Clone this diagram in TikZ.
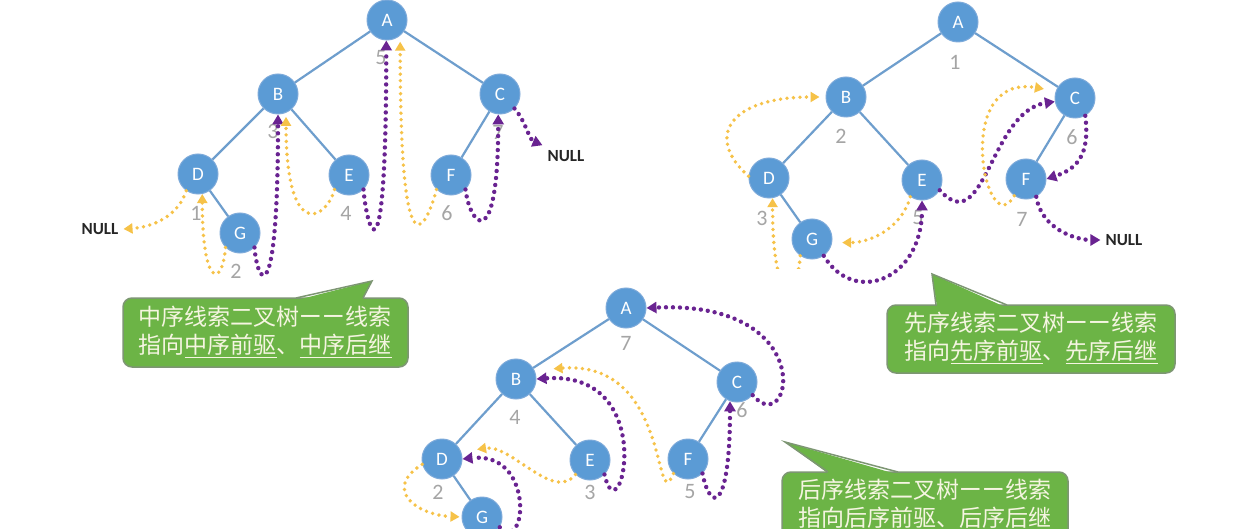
\documentclass[tikz,border=0pt]{standalone}
\usepackage{fontspec}
\setmainfont{Carlito}
\newfontfamily\cjk{Noto Sans CJK SC}
\usetikzlibrary{arrows.meta}
\definecolor{nodeblue}{RGB}{91,155,213}
\definecolor{nodeline}{RGB}{125,170,218}
\definecolor{edgeblue}{RGB}{110,158,205}
\definecolor{thyel}{RGB}{246,194,72}
\definecolor{thpur}{RGB}{105,35,145}
\definecolor{numgray}{RGB}{165,165,165}
\definecolor{cgreen}{RGB}{108,180,70}
\definecolor{cline}{RGB}{125,150,115}
\definecolor{ctext}{RGB}{245,245,225}
\newcommand\ulx[1]{\underline{#1}}
\newcommand\dsh{\makebox[1em]{\scalebox{1.0}[1.4]{—}}}
\begin{document}
\begin{tikzpicture}[x=1pt,y=-1pt,
  tnode/.style={circle,fill=nodeblue,draw=nodeline,line width=1pt,minimum size=40pt,inner sep=0pt,text=white,font=\fontsize{19}{19}\selectfont},
  edge/.style={draw=edgeblue,line width=2.2pt},
  num/.style={text=numgray,font=\fontsize{22}{22}\selectfont,inner sep=0pt},
  nul/.style={text=black!85,font=\bfseries\fontsize{17}{17}\selectfont,inner sep=5pt},
  ythr/.style={draw=thyel,line width=3.8pt,line cap=round,dash pattern=on 0pt off 6.5pt,-{Triangle[length=9pt,width=10pt]}},
  pthr/.style={draw=thpur,line width=4.4pt,line cap=round,dash pattern=on 0pt off 7pt,-{Triangle[length=10pt,width=11pt]}},
  cbox/.style={fill=cgreen,draw=cline,line width=1.5pt,rounded corners=9pt},
  ctail/.style={fill=cgreen},
  ctailline/.style={draw=cline,line width=1.5pt,line join=miter},
  ctxt/.style={text=ctext,font=\cjk\fontsize{23}{28}\selectfont,align=center,inner sep=0pt}
]
\useasboundingbox (0,0) rectangle (1241,529);
\clip (0,0) rectangle (1241,529);
\fill[white] (0,0) rectangle (1241,529);

% ---------------- left tree: inorder ----------------
\node[tnode] (lA) at (387,20) {A};
\node[tnode] (lB) at (278,94) {B};
\node[tnode] (lC) at (500,94) {C};
\node[tnode] (lD) at (198,174) {D};
\node[tnode] (lE) at (349,175) {E};
\node[tnode] (lF) at (451,175) {F};
\node[tnode] (lG) at (240,233) {G};
\draw[edge] (lA) -- (lB); \draw[edge] (lA) -- (lC);
\draw[edge] (lB) -- (lD); \draw[edge] (lB) -- (lE);
\draw[edge] (lC) -- (lF); \draw[edge] (lD) -- (lG);
\node[num] (ln1) at (196,213) {1};
\node[num] (ln2) at (236,271) {2};
\node[num] (ln3) at (273,131) {3};
\node[num] (ln4) at (346,213) {4};
\node[num] (ln5) at (381,58) {5};
\node[num] (ln6) at (447,213) {6};
\node[num] (ln7) at (498,132) {7};
\node[nul] (lnullL) at (100,229) {NULL};
\node[nul] (lnullR) at (566,156) {NULL};
\draw[ythr] (lD.235) .. controls +(-8,25) and +(30,-2) .. (lnullL.east);
\draw[ythr] (lG.225) .. controls +(-3,40) and +(0,95) .. (lD.282);
\draw[pthr] (lG.315) .. controls +(3,38) and +(0,200) .. (lB.south);
\draw[ythr,shorten >=4pt] (lE.225) .. controls +(-8,30) and +(0,130) .. (lB.293);
\draw[pthr] (lE.315) .. controls +(3,38) and +(0,260) .. (lA.268);
\draw[ythr,shorten >=6pt] (lF.225) .. controls +(-8,30) and +(0,260) .. (lA.310);
\draw[pthr] (lF.315) .. controls +(5,38) and +(0,140) .. (lC.265);
\draw[pthr] (lC.315) .. controls +(12,14) and +(-14,-6) .. (lnullR.north west);

% ---------------- right tree: preorder ----------------
\node[tnode] (rA) at (958,22) {A};
\node[tnode] (rB) at (846,97) {B};
\node[tnode] (rC) at (1075,98) {C};
\node[tnode] (rD) at (769,178) {D};
\node[tnode] (rE) at (922,180) {E};
\node[tnode] (rF) at (1026,179) {F};
\node[tnode] (rG) at (812,239) {G};
\draw[edge] (rA) -- (rB); \draw[edge] (rA) -- (rC);
\draw[edge] (rB) -- (rD); \draw[edge] (rB) -- (rE);
\draw[edge] (rC) -- (rF); \draw[edge] (rD) -- (rG);
\node[num] (rn1) at (955,62) {1};
\node[num] (rn2) at (841,136) {2};
\node[num] (rn3) at (762,218) {3};
\node[num] (rn5) at (918,218) {5};
\node[num] (rn6) at (1072,137) {6};
\node[num] (rn7) at (1022,219) {7};
\node[nul] (rnull) at (1124,240) {NULL};
\draw[ythr,shorten >=6pt] (rD.175) .. controls +(-45,-40) and +(-95,0) .. (rB.west);
\begin{scope}
\clip (0,0) rectangle (1241,268);
\draw[ythr] (rG.235) .. controls +(-3,45) and +(0,110) .. (rD.280);
\end{scope}
\draw[pthr] (rG.305) .. controls +(30,50) and +(0,80) .. (rE.south);
\draw[ythr,shorten >=10pt] (rE.235) .. controls +(-8,30) and +(40,0) .. (rG.350);
\draw[pthr] (rE.330) .. controls +(45,50) and +(-65,10) .. (rC.190);
\draw[ythr,shorten >=12pt] (rF.235) .. controls +(-28,50) and +(-105,-18) .. (rC.160);
\draw[pthr] (rC.300) .. controls +(5,40) and +(30,-10) .. (rF.east);
\draw[pthr] (rF.300) .. controls +(5,32) and +(-25,0) .. (rnull.west);

% ---------------- bottom tree: postorder ----------------
\node[tnode] (bA) at (626,308) {A};
\node[tnode] (bB) at (516,379) {B};
\node[tnode] (bC) at (737,382) {C};
\node[tnode] (bD) at (442,459) {D};
\node[tnode] (bE) at (590,460) {E};
\node[tnode] (bF) at (688,459) {F};
\node[tnode] (bG) at (482,517) {G};
\draw[edge] (bA) -- (bB); \draw[edge] (bA) -- (bC);
\draw[edge] (bB) -- (bD); \draw[edge] (bB) -- (bE);
\draw[edge] (bC) -- (bF); \draw[edge] (bD) -- (bG);
\node[num] (bn7) at (626,343) {7};
\node[num] (bn4) at (515,417) {4};
\node[num] (bn6) at (742,410) {6};
\node[num] (bn2) at (438,492) {2};
\node[num] (bn3) at (590,492) {3};
\node[num] (bn5) at (690,492) {5};
\draw[ythr,shorten >=2pt] (bD.195) .. controls +(-40,25) and +(-45,-2) .. (bG.west);
\draw[pthr] (bG.330) .. controls +(27,28) and +(73,-8) .. (bD.east);
\draw[ythr,shorten >=16pt] (bE.225) .. controls +(-22,28) and +(50,-8) .. (bD.20);
\draw[pthr] (bE.315) .. controls +(15,67) and +(125,-9) .. (bB.east);
\draw[ythr,shorten >=19pt] (bF.225) .. controls +(-20,47) and +(137,-11) .. (bB.25);
\draw[pthr] (bF.315) .. controls +(8,40) and +(0,110) .. (bC.250);
\draw[pthr] (bC.320) .. controls +(39,46) and +(175,-8) .. (bA.east);

% ---------------- callouts ----------------
\draw[cbox] (123,298) rectangle (408,367);
\fill[ctail] (297,300) -- (372,281) -- (362,300) -- cycle;
\draw[ctailline] (296,298) -- (372,281) -- (363,298);
\node[ctxt] (t1) at (265,332) {中序线索二叉树\dsh\dsh 线索\\指向\ulx{中序前驱}、\ulx{中序后继}};

\draw[cbox] (887,305) rectangle (1175,373);
\fill[ctail] (937,307) -- (932,274) -- (1005,307) -- cycle;
\draw[ctailline] (936,305) -- (932,274) -- (1007,305);
\node[ctxt] (t2) at (1031,338) {先序线索二叉树\dsh\dsh 线索\\指向\ulx{先序前驱}、\ulx{先序后继}};

\draw[cbox] (782,472) rectangle (1068,570);
\fill[ctail] (829,474) -- (785,442) -- (896,474) -- cycle;
\draw[ctailline] (828,472) -- (785,442) -- (898,472);
\node[ctxt] (t3) at (925,505) {后序线索二叉树\dsh\dsh 线索\\指向\ulx{后序前驱}、\ulx{后序后继}};
\end{tikzpicture}
\end{document}
